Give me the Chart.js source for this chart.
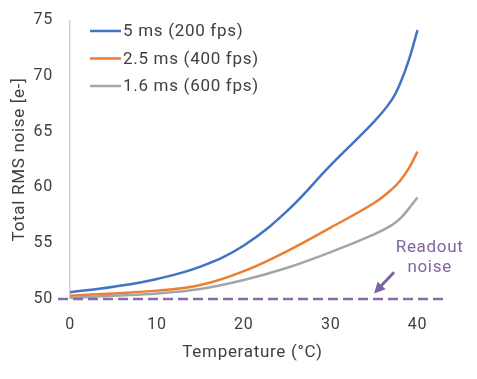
<!DOCTYPE html>
<html>
<head>
<meta charset="utf-8">
<script src="https://cdn.jsdelivr.net/npm/chart.js@4"></script>
<style>
  body { margin: 0; background: #fff; }
  canvas { display: block; }
</style>
</head>
<body>
<canvas id="noiseChart" width="477" height="379"></canvas>
<script>
// data
const temps = [0, 5, 10, 15, 20, 25, 30, 35, 37, 38, 39, 40];
const noise5ms = [50.6, 51.1, 51.8, 52.9, 54.8, 57.9, 62.0, 65.9, 67.8, 69.3, 71.4, 74.1];
const noise2_5ms = [50.3, 50.5, 50.75, 51.25, 52.5, 54.3, 56.4, 58.6, 59.8, 60.6, 61.7, 63.2];
const noise1_6ms = [50.1, 50.3, 50.5, 50.9, 51.7, 52.8, 54.2, 55.8, 56.6, 57.2, 58.1, 59.1];
const seriesLabels = ["5 ms (200 fps)", "2.5 ms (400 fps)", "1.6 ms (600 fps)"];
const seriesColors = ["#4472C4", "#ED7D31", "#A5A5A5"];
const readoutNoise = 50;
const readoutRange = [-1.4, 43.4];
const xTicks = [0, 10, 20, 30, 40];

const textColor = "#404040";
const purple = "#8064A2";
const tickFont = { family: "Roboto", size: 16 };
const titleFont = { family: "Roboto", size: 17 };

function toPoints(ys) {
    return temps.map((t, i) => ({ x: t, y: ys[i] }));
}

// the reference font is a bit more spaced out than Roboto
const spacing = {
    id: "spacing",
    beforeUpdate(chart) { chart.ctx.letterSpacing = "0.7px"; },
    beforeDraw(chart) { chart.ctx.letterSpacing = "0.7px"; }
};

// legend, arrow and the "Readout noise" note
const extras = {
    id: "extras",
    afterDraw(chart) {
        const ctx = chart.ctx;
        const xs = chart.scales.x;
        const ys = chart.scales.y;
        ctx.save();

        // legend
        ctx.font = "17px Roboto";
        ctx.textBaseline = "middle";
        ctx.textAlign = "left";
        seriesLabels.forEach((label, i) => {
            const y = 31 + i * 27.5;
            ctx.strokeStyle = seriesColors[i];
            ctx.lineWidth = 2.5;
            ctx.beginPath();
            ctx.moveTo(90, y);
            ctx.lineTo(121, y);
            ctx.stroke();
            ctx.fillStyle = textColor;
            ctx.fillText(label, 123, y + 1);
        });

        // arrow
        const x1 = xs.getPixelForValue(37.3), y1 = ys.getPixelForValue(52.4);
        const x2 = xs.getPixelForValue(35.0), y2 = ys.getPixelForValue(50.5);
        const ang = Math.atan2(y2 - y1, x2 - x1);
        ctx.strokeStyle = purple;
        ctx.fillStyle = purple;
        ctx.lineWidth = 3;
        ctx.beginPath();
        ctx.moveTo(x1, y1);
        ctx.lineTo(x2 - 6 * Math.cos(ang), y2 - 6 * Math.sin(ang));
        ctx.stroke();
        ctx.beginPath();
        ctx.moveTo(x2, y2);
        ctx.lineTo(x2 - 11 * Math.cos(ang) + 5.5 * Math.sin(ang), y2 - 11 * Math.sin(ang) - 5.5 * Math.cos(ang));
        ctx.lineTo(x2 - 11 * Math.cos(ang) - 5.5 * Math.sin(ang), y2 - 11 * Math.sin(ang) + 5.5 * Math.cos(ang));
        ctx.closePath();
        ctx.fill();

        // note
        ctx.textAlign = "center";
        ctx.fillText("Readout", xs.getPixelForValue(41.4), ys.getPixelForValue(54.6));
        ctx.fillText("noise", xs.getPixelForValue(41.4), ys.getPixelForValue(52.8));
        ctx.restore();
    }
};

const lineDataset = (i, ys) => ({
    label: seriesLabels[i],
    data: toPoints(ys),
    borderColor: seriesColors[i],
    borderWidth: 2.5,
    pointRadius: 0,
    tension: 0.4,
    fill: false
});

new Chart(document.getElementById("noiseChart"), {
    type: "line",
    data: {
        datasets: [
            {
                label: "Readout noise",
                data: readoutRange.map(x => ({ x: x, y: readoutNoise })),
                borderColor: "#8B6BAE",
                borderWidth: 2.5,
                borderDash: [10, 5],
                pointRadius: 0,
                clip: false
            },
            lineDataset(2, noise1_6ms),
            lineDataset(1, noise2_5ms),
            lineDataset(0, noise5ms)
        ]
    },
    options: {
        responsive: false,
        animation: false,
        layout: { padding: { top: 20, right: 30, left: 0, bottom: 0 } },
        plugins: {
            legend: { display: false },
            tooltip: { enabled: false }
        },
        scales: {
            x: {
                type: "linear",
                min: readoutRange[0],
                max: readoutRange[1],
                afterBuildTicks: s => { s.ticks = xTicks.map(v => ({ value: v })); },
                afterFit: s => { s.height = 80; },
                ticks: { font: tickFont, color: textColor, padding: 16 },
                grid: {
                    drawTicks: false,
                    lineWidth: 1.5,
                    color: c => (c.tick && c.tick.value === 0 ? "#D0D0D0" : "rgba(0,0,0,0)")
                },
                border: { display: false },
                title: {
                    display: true,
                    text: "Temperature (°C)",
                    font: titleFont,
                    color: textColor,
                    padding: { top: 0, bottom: 16 }
                }
            },
            y: {
                min: 50,
                max: 75,
                afterFit: s => { s.width = 58; },
                ticks: { stepSize: 5, font: tickFont, color: textColor, padding: 5 },
                grid: { display: false, drawTicks: false },
                border: { display: false },
                title: {
                    display: true,
                    text: "Total RMS noise [e-]",
                    font: titleFont,
                    color: textColor,
                    padding: { top: 10, bottom: 0 }
                }
            }
        }
    },
    plugins: [spacing, extras]
});
</script>
</body>
</html>
